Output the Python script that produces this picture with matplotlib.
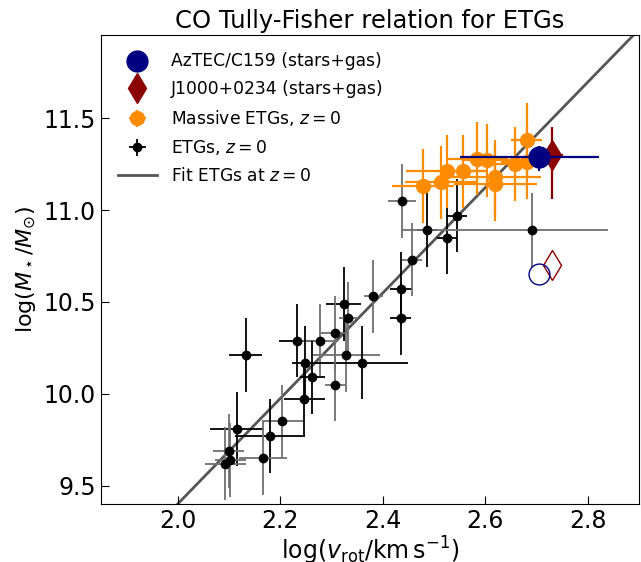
import numpy as np
import matplotlib
matplotlib.use("Agg")
from matplotlib import pyplot as plt

# ETGs at z=0 : log v_rot, log M*, x error, y error
etg_x = [2.133, 2.324, 2.333, 2.382, 2.436, 2.435, 2.307, 2.232, 2.278, 2.248,
         2.329, 2.360, 2.263, 2.308, 2.247, 2.204, 2.180, 2.116, 2.100, 2.103,
         2.093, 2.167, 2.438, 2.486, 2.525, 2.544, 2.457, 2.691]
etg_y = [10.21, 10.49, 10.41, 10.53, 10.57, 10.41, 10.33, 10.29, 10.29, 10.17,
         10.21, 10.17, 10.09, 10.05, 9.97, 9.85, 9.77, 9.81, 9.69, 9.64,
         9.62, 9.65, 11.05, 10.89, 10.85, 10.97, 10.73, 10.89]
etg_xerr_lo = [0.032, 0.034, 0.018, 0.018, 0.021, 0.021, 0.027, 0.035, 0.035, 0.025,
               0.065, 0.09, 0.025, 0.02, 0.04, 0.04, 0.068, 0.052, 0.03, 0.03,
               0.04, 0.047, 0.027, 0.02, 0.02, 0.02, 0.02, 0.253]
etg_xerr_hi = [0.032, 0.034, 0.018, 0.018, 0.021, 0.021, 0.027, 0.035, 0.035, 0.025,
               0.065, 0.09, 0.025, 0.02, 0.04, 0.04, 0.068, 0.052, 0.03, 0.03,
               0.04, 0.047, 0.027, 0.02, 0.02, 0.02, 0.02, 0.149]
etg_yerr = [0.2] * 28
# error bar shade of each ETG
etg_grey = [0, 0, 1, 1, 0, 0, 1, 0, 1, 0,
            1, 0, 0, 1, 0, 1, 0, 0, 1, 1,
            1, 1, 1, 0, 0, 0, 1, 1]

# massive ETGs at z=0
mas_x = [2.479, 2.513, 2.525, 2.556, 2.584, 2.604, 2.619, 2.620, 2.658, 2.681, 2.681]
mas_y = [11.13, 11.15, 11.21, 11.21, 11.28, 11.27, 11.18, 11.14, 11.25, 11.38, 11.26]
mas_xerr = [0.06, 0.07, 0.08, 0.05, 0.06, 0.05, 0.09, 0.08, 0.04, 0.03, 0.05]
mas_yerr = [0.2] * 11

# AzTEC/C159 and J1000+0234
az_x, az_y = 2.704, 11.29
az_xerr = [[0.154], [0.117]]
az_yerr = [[0.08], [0.06]]
az_y_stars = 10.65
j1_x, j1_y = 2.731, 11.30
j1_xerr = 0.02
j1_yerr = [[0.24], [0.15]]
j1_y_stars = 10.70

# fit to ETGs at z=0
fit_slope = 2.87
fit_icpt = 9.40 - 2.0 * fit_slope

fig = plt.figure(figsize=(6.41, 5.62), dpi=100)
ax = fig.add_axes([0.157, 0.103, 0.84, 0.834])

xx = np.array([1.8, 3.0])
h_fit, = ax.plot(xx, fit_icpt + fit_slope * xx, color='#555555', lw=2, zorder=1)

for i in range(len(etg_x)):
    ec = '#707070' if etg_grey[i] else 'k'
    ax.errorbar(etg_x[i], etg_y[i],
                xerr=[[etg_xerr_lo[i]], [etg_xerr_hi[i]]], yerr=etg_yerr[i],
                fmt='o', color='k', ecolor=ec, ms=6, elinewidth=1.3, zorder=2)
h_etg = ax.errorbar([], [], xerr=[], yerr=[], fmt='o', color='k', ms=6,
                    elinewidth=1.3)

h_mas = ax.errorbar(mas_x, mas_y, xerr=mas_xerr, yerr=mas_yerr, fmt='o',
                    color='darkorange', ms=10, elinewidth=1.6, zorder=3)

ax.errorbar(j1_x, j1_y, xerr=j1_xerr, yerr=j1_yerr, fmt='none',
            ecolor='darkred', elinewidth=1.6, zorder=4)
h_j1, = ax.plot(j1_x, j1_y, 'd', color='darkred', ms=15, zorder=4)
ax.plot(j1_x, j1_y_stars, 'd', mfc='none', mec='darkred', ms=15, zorder=4)

ax.errorbar(az_x, az_y, xerr=az_xerr, yerr=az_yerr, fmt='none',
            ecolor='navy', elinewidth=1.6, zorder=5)
h_az, = ax.plot(az_x, az_y, 'o', color='navy', ms=15, zorder=5)
ax.plot(az_x, az_y_stars, 'o', mfc='none', mec='navy', ms=15, zorder=5)

ax.legend([h_az, h_j1, h_mas, h_etg, h_fit],
          ['AzTEC/C159 (stars+gas)', 'J1000+0234 (stars+gas)',
           'Massive ETGs, $z=0$', 'ETGs, $z=0$', 'Fit ETGs at $z=0$'],
          loc='upper left', frameon=False, fontsize=12.3, handlelength=2.3,
          labelspacing=0.58, borderaxespad=0.6)

ax.set_xlim(1.85, 2.9)
ax.set_ylim(9.4, 11.95)
ax.set_xticks([2.0, 2.2, 2.4, 2.6, 2.8])
ax.set_yticks([9.5, 10.0, 10.5, 11.0, 11.5])
ax.tick_params(direction='in', labelsize=17, length=6)
ax.set_xlabel(r'$\log(v_{\rm rot}/{\rm km\,s^{-1}})$', fontsize=17, labelpad=1)
ax.set_ylabel(r'$\log(M_\star/M_{\odot})$', fontsize=16)
ax.set_title('CO Tully-Fisher relation for ETGs', fontsize=17.5, pad=5)

plt.savefig('out.png')
